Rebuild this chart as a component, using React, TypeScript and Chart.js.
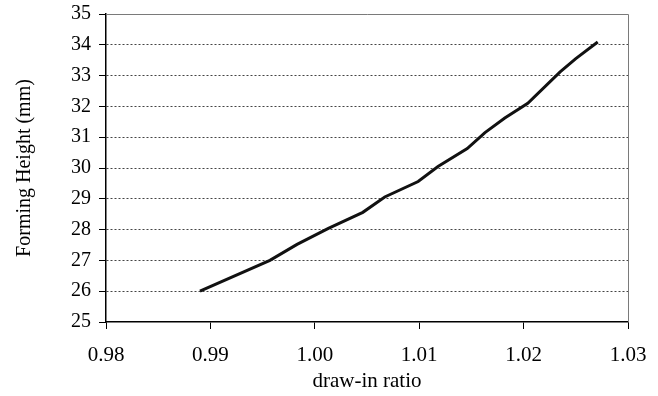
import React, { useEffect, useRef } from "react";
import { Chart, registerables } from "chart.js";

Chart.register(...registerables);

const drawInRatio = [0.989, 0.9957, 0.9983, 1.0013, 1.0046, 1.0067, 1.0099, 1.0118, 1.0146, 1.0163, 1.0182, 1.0204, 1.0235, 1.0250, 1.0271];
const formingHeight = [26.0, 27.0, 27.52, 28.04, 28.56, 29.06, 29.56, 30.05, 30.63, 31.15, 31.62, 32.1, 33.12, 33.55, 34.09];
const xTicks = [0.98, 0.99, 1.0, 1.01, 1.02, 1.03];
const yTicks = [25, 26, 27, 28, 29, 30, 31, 32, 33, 34, 35];

const FONT = "'Liberation Serif', 'Times New Roman', serif";

const framePlugin = {
  id: "frame",
  afterDraw(chart: any) {
    const { ctx, chartArea } = chart;
    ctx.save();
    ctx.strokeStyle = "#7a7a7a";
    ctx.lineWidth = 1;
    ctx.beginPath();
    ctx.moveTo(chartArea.left, chartArea.top + 0.5);
    ctx.lineTo(chartArea.right + 0.5, chartArea.top + 0.5);
    ctx.lineTo(chartArea.right + 0.5, chartArea.bottom);
    ctx.stroke();
    ctx.restore();
  },
};

export default function App() {
  const ref = useRef<HTMLCanvasElement | null>(null);
  useEffect(() => {
    document.body.style.margin = "0";
    const points = drawInRatio.map((x, i) => ({ x, y: formingHeight[i] }));
    const chart = new Chart(ref.current as HTMLCanvasElement, {
      type: "scatter",
      data: {
        datasets: [
          {
            data: points,
            showLine: true,
            borderColor: "#111",
            borderWidth: 3,
            pointRadius: 0,
            tension: 0,
            fill: false,
          },
        ],
      },
      options: {
        animation: false,
        responsive: false,
        maintainAspectRatio: false,
        layout: { padding: { left: 0, top: 14, right: 30, bottom: 0 } },
        plugins: { legend: { display: false }, tooltip: { enabled: false } },
        scales: {
          x: {
            type: "linear",
            min: 0.98,
            max: 1.03,
            afterBuildTicks: (s: any) => {
              s.ticks = xTicks.map((v) => ({ value: v }));
            },
            afterFit: (s: any) => {
              s.height = 74;
              s.paddingLeft = 0;
              s.paddingRight = 0;
            },
            ticks: {
              color: "#000",
              font: { family: FONT, size: 21 },
              padding: 14,
              maxRotation: 0,
              callback: (v: any) => Number(v).toFixed(2),
            },
            grid: {
              drawOnChartArea: false,
              drawTicks: true,
              tickLength: 7,
              tickColor: "#000",
            },
            border: { color: "#000", width: 1.5 },
            title: {
              display: true,
              text: "draw-in ratio",
              color: "#000",
              font: { family: FONT, size: 21 },
              padding: { top: 2, bottom: 2 },
            },
          },
          y: {
            type: "linear",
            min: 25,
            max: 35,
            afterBuildTicks: (s: any) => {
              s.ticks = yTicks.map((v) => ({ value: v }));
            },
            afterFit: (s: any) => {
              s.width = 106;
              s.paddingTop = 0;
              s.paddingBottom = 0;
            },
            ticks: {
              color: "#000",
              font: { family: FONT, size: 20 },
              padding: 8,
              callback: (v: any) => String(v),
            },
            grid: {
              drawOnChartArea: true,
              drawTicks: true,
              tickLength: 7,
              tickColor: "#000",
              tickBorderDash: [],
              color: (c: any) =>
                c.tick && (c.tick.value === 35 || c.tick.value === 25) ? "rgba(0,0,0,0)" : "#444",
              lineWidth: 1,
            },
            border: { color: "#000", width: 1.5, dash: [2, 2] },
            title: {
              display: true,
              text: "Forming Height (mm)",
              color: "#000",
              font: { family: FONT, size: 20 },
              padding: { top: 13, bottom: 13 },
            },
          },
        },
      },
      plugins: [framePlugin],
    });
    return () => chart.destroy();
  }, []);
  return (
    <div style={{ width: 658, height: 396 }}>
      <canvas ref={ref} width={658} height={396} style={{ width: 658, height: 396, display: "block" }} />
    </div>
  );
}
